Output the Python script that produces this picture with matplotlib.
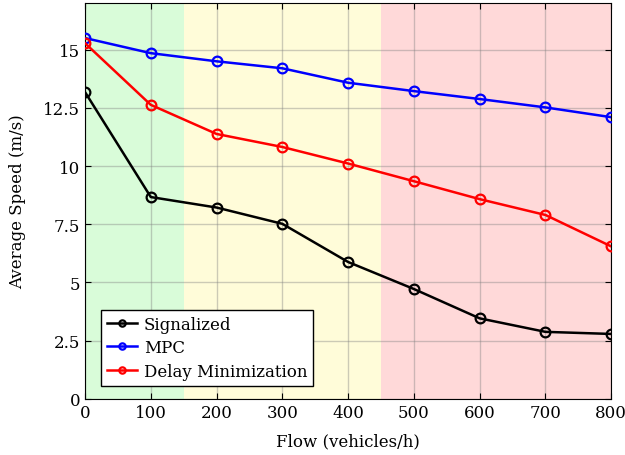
import numpy as np
import matplotlib
matplotlib.use("Agg")
import matplotlib.pyplot as plt

plt.rcParams['font.family'] = ['DejaVu Serif']

flow = [0, 100, 200, 300, 400, 500, 600, 700, 800]
signalized = [13.18, 8.67, 8.22, 7.52, 5.88, 4.72, 3.46, 2.88, 2.79]
mpc = [15.5, 14.85, 14.5, 14.2, 13.58, 13.22, 12.88, 12.52, 12.1]
delay_min = [15.28, 12.63, 11.38, 10.82, 10.11, 9.35, 8.58, 7.9, 6.55]

regions = [(0, 150, '#d9fcd9'), (150, 450, '#fffcd9'), (450, 800, '#ffd9d9')]

fig = plt.figure(figsize=(6.25, 4.56), dpi=100)
ax = fig.add_axes([0.136, 0.123, 0.842, 0.868])

for x0, x1, c in regions:
    ax.axvspan(x0, x1, color=c, zorder=0, lw=0)

ax.grid(True, color='#808080', alpha=0.4, lw=1.0, zorder=1)
ax.set_axisbelow(True)

ax.plot(flow, signalized, color='black', lw=1.8, marker='o', ms=7, mfc='none', mew=1.6, label='Signalized', zorder=3)
ax.plot(flow, mpc, color='blue', lw=1.8, marker='o', ms=7, mfc='none', mew=1.6, label='MPC', zorder=3)
ax.plot(flow, delay_min, color='red', lw=1.8, marker='o', ms=7, mfc='none', mew=1.6, label='Delay Minimization', zorder=3)

ax.set_xlim(0, 800)
ax.set_ylim(0, 17)
ax.set_xticks(flow)
ax.set_yticks([0, 2.5, 5, 7.5, 10, 12.5, 15])
ax.set_yticklabels(['0', '2.5', '5', '7.5', '10', '12.5', '15'])
ax.tick_params(direction='in', top=True, right=True, labelsize=12, length=4)
ax.set_xlabel('Flow (vehicles/h)', fontsize=12, labelpad=8)
ax.set_ylabel('Average Speed (m/s)', fontsize=12, labelpad=12)

leg = ax.legend(loc='lower left', bbox_to_anchor=(0.015, 0.012), fontsize=12, fancybox=False,
                edgecolor='black', framealpha=1, markerscale=0.65, handlelength=1.8,
                borderpad=0.35, labelspacing=0.4, handletextpad=0.4)
leg.get_frame().set_linewidth(1.0)

fig.savefig('out.png', dpi=100)
